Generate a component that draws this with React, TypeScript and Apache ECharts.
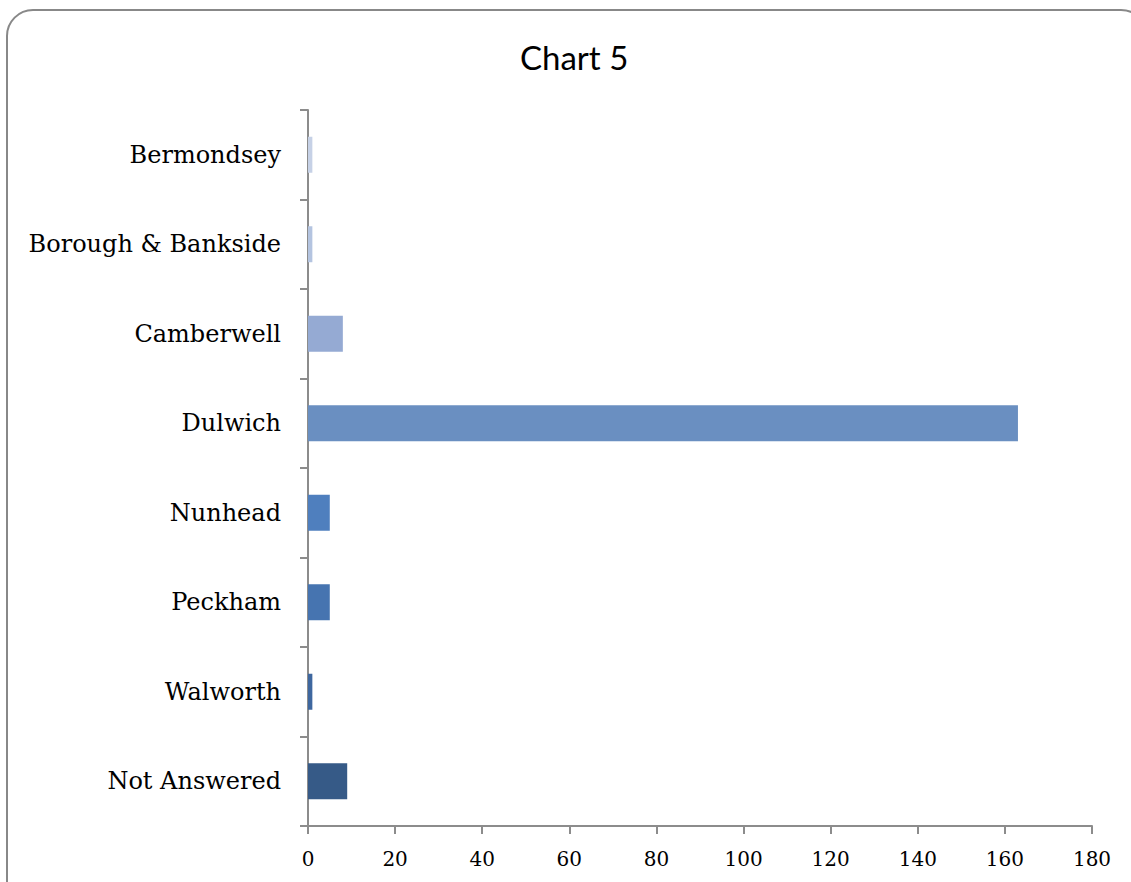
import React, { useEffect, useRef } from "react";
import * as echarts from "echarts";

const categories = ["Bermondsey", "Borough & Bankside", "Camberwell", "Dulwich", "Nunhead", "Peckham", "Walworth", "Not Answered"];
const values = [1, 1, 8, 163, 5, 5, 1, 9];
const barColors = ["#c6d1e6", "#b4c4e0", "#95aad3", "#6a8fc1", "#4f7fbe", "#4674b0", "#3e679f", "#365a87"];
const xTicks = [0, 20, 40, 60, 80, 100, 120, 140, 160, 180];

export default function App() {
  const ref = useRef<HTMLDivElement>(null);
  useEffect(() => {
    const chart = echarts.init(ref.current!, null, { renderer: "svg" });
    chart.setOption({
      animation: false,
      backgroundColor: "#ffffff",
      title: {
        text: "Chart 5",
        left: 515,
        top: 35,
        textStyle: { fontFamily: "Lato, 'Open Sans', sans-serif", fontSize: 33, fontWeight: "normal", color: "#000" },
      },
      graphic: [
        {
          type: "rect",
          shape: { x: 7, y: 10, width: 1140, height: 900, r: 26 },
          style: { fill: "none", stroke: "#888888", lineWidth: 2 },
          silent: true,
        },
      ],
      grid: { left: 308, right: 39, top: 110, bottom: 56 },
      xAxis: {
        type: "value",
        min: xTicks[0],
        max: xTicks[xTicks.length - 1],
        interval: 20,
        splitLine: { show: false },
        axisLine: { show: true, lineStyle: { color: "#8c8c8c", width: 2 } },
        axisTick: { show: true, length: 8, lineStyle: { color: "#8c8c8c", width: 2 } },
        axisLabel: { color: "#000", fontSize: 20, fontFamily: "'DejaVu Serif', serif", margin: 23 },
      },
      yAxis: {
        type: "category",
        inverse: true,
        data: categories,
        axisLine: { show: true, lineStyle: { color: "#8c8c8c", width: 2 } },
        axisTick: { show: true, length: 8, alignWithLabel: false, lineStyle: { color: "#8c8c8c", width: 2 } },
        axisLabel: { color: "#000", fontSize: 24, fontFamily: "'DejaVu Serif', serif", margin: 27 },
      },
      series: [
        {
          type: "bar",
          barWidth: 36,
          data: values.map((v, i) => ({ value: v, itemStyle: { color: barColors[i] } })),
        },
      ],
    });
    return () => chart.dispose();
  }, []);
  return <div ref={ref} style={{ width: 1131, height: 882, position: "absolute", left: 0, top: 0 }} />;
}
